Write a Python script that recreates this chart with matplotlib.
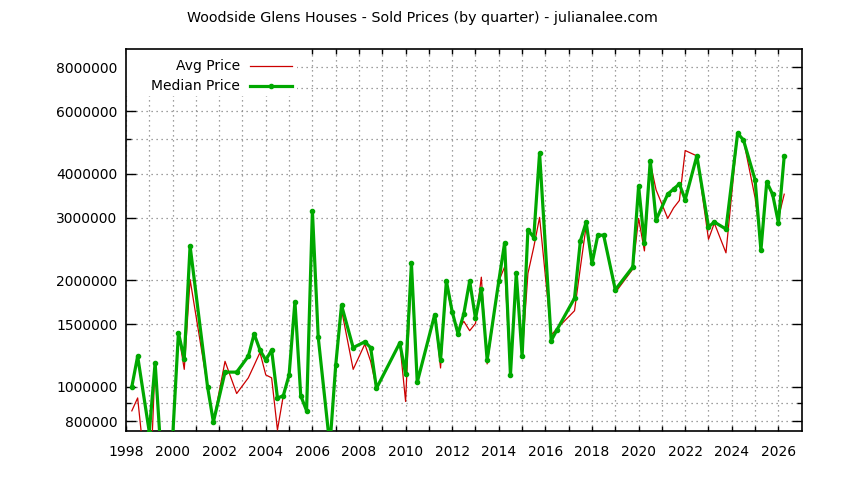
import matplotlib
matplotlib.use("Agg")
import matplotlib.pyplot as plt
from matplotlib.ticker import FixedLocator, FuncFormatter, NullFormatter
from matplotlib.patches import Rectangle

plt.rcParams['font.family'] = ['DejaVu Sans']

# quarter positions (decimal years)
quarters = [
    1998.25, 1998.5, 1999.0, 1999.25, 1999.75, 2000.25, 2000.5, 2000.75,
    2001.5, 2001.75, 2002.25, 2002.75, 2003.25, 2003.5, 2003.75, 2004.0,
    2004.25, 2004.5, 2004.75, 2005.0, 2005.25, 2005.5, 2005.75, 2006.0,
    2006.25, 2006.75, 2007.0, 2007.25, 2007.75, 2008.25, 2008.5, 2008.75,
    2009.75, 2010.0, 2010.25, 2010.5, 2011.25, 2011.5, 2011.75, 2012.0,
    2012.25, 2012.5, 2012.75, 2013.0, 2013.25, 2013.5, 2014.0, 2014.25,
    2014.5, 2014.75, 2015.0, 2015.25, 2015.5, 2015.75, 2016.25, 2016.5,
    2017.25, 2017.5, 2017.75, 2018.0, 2018.25, 2018.5, 2019.0, 2019.75,
    2020.0, 2020.25, 2020.5, 2020.75, 2021.25, 2021.5, 2021.75, 2022.0,
    2022.5, 2023.0, 2023.25, 2023.75, 2024.25, 2024.5, 2025.0, 2025.25,
    2025.5, 2025.75, 2026.0, 2026.25,
]

avg_price = [
    855000, 930000, 450000, 1170000, 360000, 1420000, 1120000, 2010000,
    1000000, 795000, 1180000, 957000, 1060000, 1150000, 1250000, 1080000,
    1060000, 755000, 943000, 1080000, 1740000, 943000, 856000, 3100000,
    1380000, 680000, 1150000, 1650000, 1120000, 1320000, 1180000, 990000,
    1330000, 909000, 2150000, 1030000, 1600000, 1130000, 1950000, 1600000,
    1450000, 1530000, 1440000, 1510000, 2040000, 1160000, 1990000, 2180000,
    1080000, 2050000, 1220000, 2090000, 2480000, 3010000, 1400000, 1460000,
    1640000, 2170000, 2850000, 2230000, 2680000, 2680000, 1845000, 2150000,
    2990000, 2420000, 4300000, 3600000, 2990000, 3200000, 3360000, 4650000,
    4490000, 2610000, 2900000, 2390000, 5200000, 4980000, 3420000, 2530000,
    3790000, 3450000, 3000000, 3500000,
]

median_price = [
    1000000, 1220000, 745000, 1170000, 360000, 1420000, 1200000, 2500000,
    1000000, 795000, 1100000, 1100000, 1220000, 1410000, 1270000, 1190000,
    1270000, 930000, 943000, 1080000, 1740000, 943000, 856000, 3140000,
    1380000, 680000, 1150000, 1700000, 1290000, 1340000, 1290000, 990000,
    1330000, 1086000, 2230000, 1030000, 1600000, 1190000, 1990000, 1630000,
    1410000, 1610000, 1990000, 1560000, 1890000, 1190000, 1990000, 2550000,
    1080000, 2090000, 1220000, 2780000, 2640000, 4570000, 1350000, 1450000,
    1780000, 2580000, 2920000, 2230000, 2680000, 2680000, 1880000, 2180000,
    3690000, 2540000, 4350000, 2960000, 3500000, 3620000, 3740000, 3380000,
    4490000, 2830000, 2920000, 2790000, 5200000, 4980000, 3840000, 2430000,
    3790000, 3500000, 2910000, 4490000,
]

y_major = [800000, 1000000, 1500000, 2000000, 3000000, 4000000, 6000000, 8000000]
y_minor = [900000, 5000000, 7000000]
x_major = list(range(1998, 2027, 2))
x_minor = list(range(1999, 2027, 2))

title = "Woodside Glens Houses - Sold Prices (by quarter) - julianalee.com"
series_labels = ["Avg Price", "Median Price"]

RED = '#cc0000'
GREEN = '#00a800'
FS = 10.0

fig = plt.figure(figsize=(8.44, 4.80), dpi=100)
ax = fig.add_axes([126 / 844, 1 - 431 / 480, (801.7 - 126) / 844, (431 - 49) / 480])

ax.set_yscale('log')
ax.set_xlim(1998, 2027)
ax.set_ylim(750000, 9000000)

ax.yaxis.set_major_locator(FixedLocator(y_major))
ax.yaxis.set_minor_locator(FixedLocator(y_minor))
ax.yaxis.set_major_formatter(FuncFormatter(lambda v, p: f"{int(round(v))}"))
ax.yaxis.set_minor_formatter(NullFormatter())
ax.xaxis.set_major_locator(FixedLocator(x_major))
ax.xaxis.set_minor_locator(FixedLocator(x_minor))
ax.xaxis.set_major_formatter(FuncFormatter(lambda v, p: f"{int(v)}"))

ax.set_axisbelow(True)
ax.grid(True, which='both', color='#808080', linestyle=(0, (1, 3)), linewidth=0.9)

ax.tick_params(axis='both', which='both', direction='in', top=True, right=True,
               labelsize=FS, width=1.0, color='black')
ax.tick_params(axis='y', which='major', length=7, pad=6)
ax.tick_params(axis='y', which='minor', length=3.6)
ax.tick_params(axis='x', which='both', length=3.6, pad=10)
for s in ax.spines.values():
    s.set_linewidth(1.2)

ax.plot(quarters, avg_price, color=RED, linewidth=0.9, zorder=3)
ax.plot(quarters, median_price, color=GREEN, linewidth=2.3, marker='o',
        markersize=3, zorder=4)

# legend (gnuplot style: right-aligned text, sample to the right)
ax.add_patch(Rectangle((0, 0.877), 0.253, 0.123, transform=ax.transAxes,
                       facecolor='white', edgecolor='none', zorder=1))
ax.text(0.1687, 0.9555, series_labels[0], transform=ax.transAxes, ha='right',
        va='center', fontsize=FS, zorder=5)
ax.text(0.1687, 0.9031, series_labels[1], transform=ax.transAxes, ha='right',
        va='center', fontsize=FS, zorder=5)
ax.plot([0.1835, 0.2457], [0.9555, 0.9555], transform=ax.transAxes,
        color=RED, linewidth=0.9, zorder=5, clip_on=False)
ax.plot([0.1835, 0.2457], [0.9031, 0.9031], transform=ax.transAxes,
        color=GREEN, linewidth=2.3, zorder=5, clip_on=False)
ax.plot([0.2146], [0.9031], transform=ax.transAxes, color=GREEN, marker='o',
        markersize=3, zorder=6, clip_on=False)

fig.text(0.5, 1 - 18 / 480, title, ha='center', va='center', fontsize=10.3)

fig.savefig('out.png', dpi=100)
